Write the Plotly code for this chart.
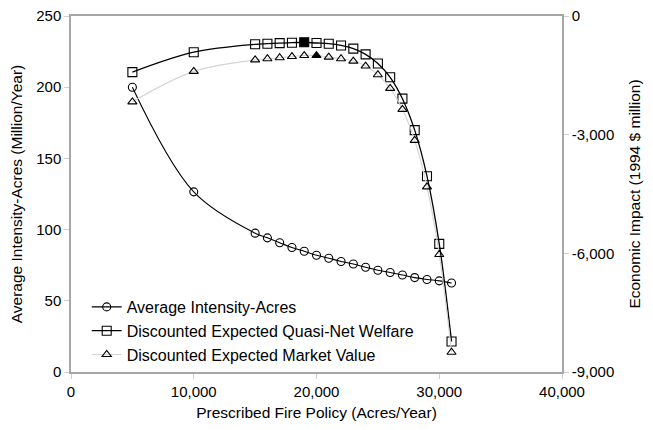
import plotly.graph_objects as go

# Prescribed fire policy (acres/year)
policy_circ = [5000, 10000, 15000, 16000, 17000, 18000, 19000, 20000, 21000, 22000,
               23000, 24000, 25000, 26000, 27000, 28000, 29000, 30000, 31000]
intensity_acres = [200, 126.5, 97.5, 94.2, 90.8, 87.4, 84.8, 82.0, 79.9, 77.6,
                   75.8, 73.6, 71.5, 69.9, 68.1, 66.3, 65.0, 64.0, 62.5]

policy_econ = [5000, 10000, 15000, 16000, 17000, 18000, 19000, 20000, 21000, 22000,
               23000, 24000, 25000, 26000, 27000, 28000, 29000, 30000, 31000]
quasi_net_welfare = [-1420, -915, -715, -700, -685, -675, -665, -683, -700, -745,
                     -826, -970, -1200, -1550, -2090, -2885, -4050, -5760, -8230]
market_value = [-2170, -1400, -1110, -1080, -1055, -1025, -1000, -1000, -1040, -1080,
                -1140, -1265, -1485, -1830, -2360, -3145, -4320, -6030, -8500]

optimal_welfare_policy = 19000
optimal_market_policy = 20000

x_ticks = [0, 10000, 20000, 30000, 40000]
x_ticktext = ["0", "10,000", "20,000", "30,000", "40,000"]
y_ticks = [0, 50, 100, 150, 200, 250]
y2_ticks = [-9000, -6000, -3000, 0]
y2_ticktext = ["-9,000", "-6,000", "-3,000", "0"]

FONT = "Arial, 'Liberation Sans', sans-serif"
AX = "#a6a6a6"
TICK_SIZE = 15
TITLE_SIZE = 15.5

sq_symbols = ["square" if p == optimal_welfare_policy else "square-open" for p in policy_econ]
tri_symbols = ["triangle-up" if p == optimal_market_policy else "triangle-up-open" for p in policy_econ]

fig = go.Figure()
fig.add_trace(go.Scatter(
    x=policy_circ, y=intensity_acres, name="Average Intensity-Acres",
    mode="lines+markers",
    line=dict(color="black", width=1.1, shape="spline", smoothing=1),
    marker=dict(symbol="circle-open", size=8, color="black", line=dict(width=1.1)),
))
fig.add_trace(go.Scatter(
    x=policy_econ, y=quasi_net_welfare, name="Discounted Expected Quasi-Net Welfare",
    mode="lines+markers", yaxis="y2",
    line=dict(color="black", width=1.3, shape="spline", smoothing=1),
    marker=dict(symbol=sq_symbols, size=9, color="black", line=dict(width=1.1, color="black")),
))
fig.add_trace(go.Scatter(
    x=policy_econ, y=market_value, name="Discounted Expected Market Value",
    mode="lines+markers", yaxis="y2",
    line=dict(color="#d4d4d4", width=1.1, shape="spline", smoothing=1),
    marker=dict(symbol=tri_symbols, size=8, color="black", line=dict(width=1.1, color="black")),
))

fig.update_layout(
    width=645, height=422,
    margin=dict(l=63, r=91, t=8, b=58, autoexpand=False),
    paper_bgcolor="white", plot_bgcolor="white",
    font=dict(family=FONT, size=16, color="black"),
    showlegend=True,
    legend=dict(x=0.032, y=0.0, xanchor="left", yanchor="bottom",
                bgcolor="rgba(0,0,0,0)", font=dict(size=16), itemwidth=30,
                tracegroupgap=0),
    xaxis=dict(range=[0, 40000], tickvals=x_ticks, ticktext=x_ticktext,
               showgrid=False, zeroline=False, showline=True, linecolor=AX, linewidth=1.5,
               mirror=True, ticks="outside", ticklen=5, tickcolor="#d0d0d0",
               tickfont=dict(size=TICK_SIZE), automargin=False, ticklabeloverflow="allow",
               title=dict(text="Prescribed Fire Policy (Acres/Year)", standoff=8,
                          font=dict(size=TITLE_SIZE))),
    yaxis=dict(range=[0, 250], tickvals=y_ticks,
               showgrid=False, zeroline=False, showline=True, linecolor=AX, linewidth=1.5,
               ticks="outside", ticklen=5, tickcolor="#d0d0d0",
               tickfont=dict(size=TICK_SIZE), automargin=False, ticklabeloverflow="allow",
               title=dict(text="Average Intensity-Acres (Million/Year)", standoff=10,
                          font=dict(size=TITLE_SIZE))),
    yaxis2=dict(range=[-9000, 0], tickvals=y2_ticks, ticktext=y2_ticktext,
                overlaying="y", side="right",
                showgrid=False, zeroline=False, showline=True, linecolor=AX, linewidth=1.5,
                ticks="outside", ticklen=5, tickcolor="#d0d0d0",
                tickfont=dict(size=TICK_SIZE), automargin=False, ticklabeloverflow="allow",
                title=dict(text="Economic Impact (1994 $ million)", standoff=16,
                           font=dict(size=TITLE_SIZE))),
)

fig.write_html("out.html")
